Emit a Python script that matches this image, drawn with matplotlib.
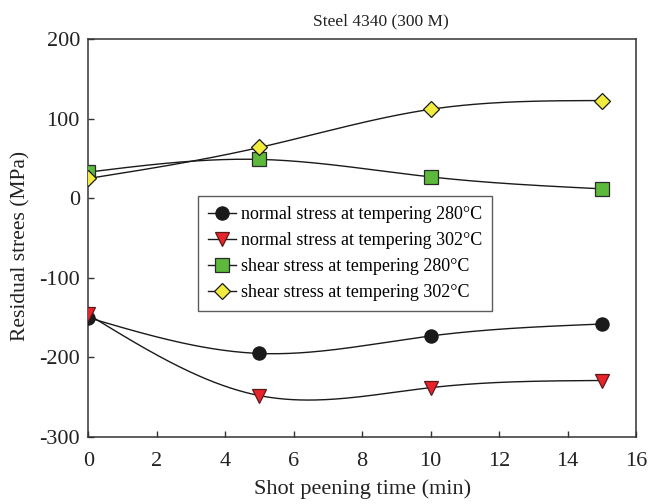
import numpy as np
import matplotlib
matplotlib.use("Agg")
import matplotlib.pyplot as plt

plt.rcParams['font.family'] = ['Liberation Serif', 'DejaVu Serif']
plt.rcParams['axes.unicode_minus'] = False

# shot peening time (min)
time_min = [0, 5, 10, 15]

# residual stress (MPa)
normal_280 = [-150, -195, -173, -158]
normal_302 = [-146, -248, -238, -229]
shear_280 = [33, 49, 27, 12]
shear_302 = [25, 64, 112, 123]

labels = [
    "normal stress at tempering 280\u00b0C",
    "normal stress at tempering 302\u00b0C",
    "shear stress at tempering 280\u00b0C",
    "shear stress at tempering 302\u00b0C",
]


def natural_spline(x, y, n=200):
    # plain natural cubic spline for the smooth connecting curve
    x = np.asarray(x, float)
    y = np.asarray(y, float)
    k = len(x)
    h = np.diff(x)
    A = np.zeros((k, k))
    b = np.zeros(k)
    A[0, 0] = A[-1, -1] = 1
    for i in range(1, k - 1):
        A[i, i - 1] = h[i - 1]
        A[i, i] = 2 * (h[i - 1] + h[i])
        A[i, i + 1] = h[i]
        b[i] = 3 * ((y[i + 1] - y[i]) / h[i] - (y[i] - y[i - 1]) / h[i - 1])
    c = np.linalg.solve(A, b)
    xs = np.linspace(x[0], x[-1], n)
    ys = np.empty_like(xs)
    for j, xv in enumerate(xs):
        i = min(np.searchsorted(x, xv, side='right') - 1, k - 2)
        d = xv - x[i]
        bi = (y[i + 1] - y[i]) / h[i] - h[i] * (2 * c[i] + c[i + 1]) / 3
        di = (c[i + 1] - c[i]) / (3 * h[i])
        ys[j] = y[i] + bi * d + c[i] * d ** 2 + di * d ** 3
    return xs, ys


fig = plt.figure(figsize=(6.49, 5.04), dpi=100)
ax = fig.add_axes([0.136, 0.133, 0.844, 0.789])

styles = [
    dict(marker='o', mfc='#1a1a1a', mec='#1a1a1a', ms=9.5),
    dict(marker='v', mfc='#e8232b', mec='#5a1a1a', ms=10),
    dict(marker='s', mfc='#5cb93c', mec='#2a2a2a', ms=9.5),
    dict(marker='D', mfc='#f2ec3e', mec='#1a1a1a', ms=8.5),
]
series = [normal_280, normal_302, shear_280, shear_302]

for vals, st, lab in zip(series, styles, labels):
    xs, ys = natural_spline(time_min, vals)
    ax.plot(xs, ys, color='#1a1a1a', lw=1.0, zorder=2)
    ax.plot(time_min, vals, ls='none', mew=0.9, zorder=3, **st)
    ax.plot([], [], color='#1a1a1a', lw=1.0, mew=0.9, label=lab, **st)

ax.set_xlim(0, 16)
ax.set_ylim(-300, 200)
ax.set_xticks(range(0, 17, 2))
ax.set_yticks(range(-300, 201, 100))
ax.tick_params(direction='in', length=4, width=1, labelsize=16, colors='#333333',
               labelcolor='#222222')
ax.tick_params(axis='x', pad=11)
ax.tick_params(axis='y', pad=6)
for s in ax.spines.values():
    s.set_color('#333333')
    s.set_linewidth(1.1)

ax.set_xlabel("Shot peening time (min)", fontsize=16, color='#222222', labelpad=6)
ax.set_ylabel("Residual strees (MPa)", fontsize=15.5, color='#222222')
ax.yaxis.set_label_coords(-0.105, 0.48)
ax.text(0.535, 1.025, "Steel 4340 (300 M)", transform=ax.transAxes,
        ha='center', va='bottom', fontsize=12.5, color='#222222')

leg = ax.legend(loc='upper left', bbox_to_anchor=(0.2, 0.605), fontsize=13,
                frameon=True, fancybox=False, edgecolor='#333333',
                handlelength=1.55, handletextpad=0.3, borderpad=0.55,
                labelspacing=0.5, borderaxespad=0)
leg.get_frame().set_linewidth(1.0)

fig.savefig("out.png", dpi=100)
